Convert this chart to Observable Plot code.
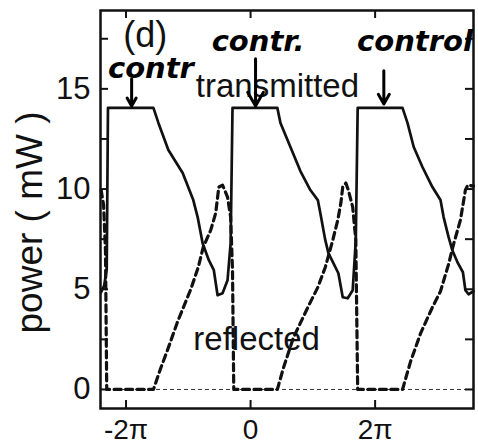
<!DOCTYPE html>
<html><head><meta charset="utf-8">
<script src="https://cdn.jsdelivr.net/npm/d3@7"></script>
<script src="https://cdn.jsdelivr.net/npm/@observablehq/plot@0.6"></script>
<style>body{margin:0;background:#fff}</style>
</head><body><div id="chart"></div>
<script>
// x values are in units of π
const transX = [-2.40, -2.35, -2.31, -2.29, -1.56, -1.48, -1.32, -1.09, -0.92, -0.85, -0.77, -0.67, -0.59, -0.53, -0.45, -0.37, -0.32, -0.29,
  0.43, 0.48, 0.64, 0.80, 0.96, 1.08, 1.12, 1.20, 1.25, 1.33, 1.41, 1.48, 1.56, 1.64, 1.69, 1.72,
  2.44, 2.52, 2.62, 2.76, 2.92, 3.05, 3.10, 3.18, 3.24, 3.33, 3.41, 3.45, 3.50, 3.58];
const transY = [4.85, 5.2, 6.0, 14.05, 14.05, 13.3, 11.95, 10.8, 9.45, 8.6, 7.3, 6.45, 5.95, 4.7, 4.8, 5.45, 7.3, 14.05,
  14.05, 13.3, 12.1, 10.9, 9.95, 9.45, 8.8, 7.45, 6.8, 6.3, 5.8, 4.6, 4.55, 4.95, 7.45, 14.05,
  14.05, 13.3, 12.1, 11.1, 10.1, 9.45, 8.6, 7.6, 6.95, 6.3, 5.85, 4.95, 4.75, 4.9];

const reflX = [-2.40, -2.36, -2.33, -2.31, -1.56, -1.45, -1.33, -1.17, -0.96, -0.84, -0.76, -0.64, -0.56, -0.51, -0.45, -0.37, -0.32, -0.29, -0.27,
  0.43, 0.53, 0.69, 0.92, 1.08, 1.20, 1.32, 1.40, 1.45, 1.48, 1.53, 1.57, 1.64, 1.69, 1.72,
  2.44, 2.57, 2.73, 2.92, 3.05, 3.18, 3.26, 3.37, 3.45, 3.49, 3.58];
const reflY = [9.95, 9.2, 6.9, 0, 0, 1.0, 2.0, 3.4, 5.0, 6.1, 7.1, 7.95, 8.8, 10.1, 10.2, 9.6, 8.6, 5.95, 0,
  0, 1.1, 2.6, 4.1, 5.1, 6.1, 7.45, 8.45, 9.3, 10.1, 10.3, 9.95, 9.1, 7.45, 0,
  0, 1.4, 2.8, 4.1, 4.9, 6.25, 7.25, 8.45, 9.95, 10.2, 10.15];

const xTicks = [-2, 0, 2];
const xTickLabels = ["-2π", "0", "2π"];
const yTicks = [0, 2.5, 5, 7.5, 10, 12.5, 15, 17.5];
const yTickLabels = ["0", "", "5", "", "10", "", "15", ""];

const seriesLabels = ["transmitted", "reflected"];
const seriesLabelX = [-0.88, -0.92];
const seriesLabelY = [14.57, 1.95];

const panelLabel = "(d)";
const yTitle = "power ( mW )";

// handwritten annotations
const noteText = ["contr", "contr.", "control"];
const noteX = [-1.60, 0.12, 2.64];
const noteY = [15.55, 16.9, 16.9];
const arrowX = [-1.91, 0.08, 2.14];
const arrowY1 = [15.5, 16.5, 15.9];
const arrowY2 = [14.15, 14.15, 14.25];

const trans = transX.map((x, i) => ({x, y: transY[i]}));
const refl = reflX.map((x, i) => ({x, y: reflY[i]}));
const labels = seriesLabels.map((t, i) => ({t, x: seriesLabelX[i], y: seriesLabelY[i]}));
const notes = noteText.map((t, i) => ({t, x: noteX[i], y: noteY[i]}));
const arrows = arrowX.map((x, i) => ({x, y1: arrowY1[i], y2: arrowY2[i]}));

const W = 478, H = 448, mL = 100, mR = 5, mT = 10, mB = 40;
const frameW = W - mL - mR, frameH = H - mT - mB, tick = 8;
const ink = "#111";
const chart = Plot.plot({
  width: W, height: H,
  marginLeft: mL, marginRight: mR, marginTop: mT, marginBottom: mB,
  style: {fontFamily: "'Liberation Sans', Arial, sans-serif", background: "white", color: ink},
  x: {domain: [-2.41, 3.58]},
  y: {domain: [-0.95, 18.91]},
  marks: [
    Plot.ruleY([0], {stroke: "#333", strokeWidth: 1, strokeDasharray: "4,3"}),
    Plot.line(refl, {x: "x", y: "y", stroke: ink, strokeWidth: 3.2, strokeDasharray: "7,4.5"}),
    Plot.line(trans, {x: "x", y: "y", stroke: ink, strokeWidth: 2.7}),
    Plot.frame({stroke: ink, strokeWidth: 2.5}),
    // inward ticks on all four sides
    Plot.tickY(yTicks, {y: d => d, insetRight: frameW - tick, stroke: ink, strokeWidth: 2}),
    Plot.tickY(yTicks, {y: d => d, insetLeft: frameW - tick, stroke: ink, strokeWidth: 2}),
    Plot.tickX(xTicks, {x: d => d, insetTop: frameH - tick, stroke: ink, strokeWidth: 2}),
    Plot.tickX(xTicks, {x: d => d, insetBottom: frameH - tick, stroke: ink, strokeWidth: 2}),
    Plot.axisY(yTicks, {anchor: "left", tickSize: 0, tickPadding: 10, fontSize: 31,
      tickFormat: d => yTickLabels[yTicks.indexOf(d)], label: null}),
    Plot.axisX(xTicks, {anchor: "bottom", tickSize: 0, tickPadding: 11, fontSize: 28,
      tickFormat: d => xTickLabels[xTicks.indexOf(d)], label: null}),
    Plot.text(labels, {x: "x", y: "y", text: "t", textAnchor: "start", lineAnchor: "bottom", fontSize: 33, fill: ink}),
    Plot.text([panelLabel], {x: () => -1.69, y: () => 17.1, text: d => d, lineAnchor: "bottom", fontSize: 36, fill: ink}),
    Plot.text([yTitle], {frameAnchor: "left", textAnchor: "middle", rotate: -90, dx: -70, dy: 13, fontSize: 37, fill: ink}),
    Plot.text(notes, {x: "x", y: "y", text: "t", lineAnchor: "bottom", fontSize: 29, fontWeight: "bold", fontStyle: "italic",
      fontFamily: "'DejaVu Sans', sans-serif", fill: "#000"}),
    Plot.arrow(arrows, {x: "x", y1: "y1", y2: "y2", stroke: "#000", strokeWidth: 3, headLength: 10})
  ]
});
document.getElementById("chart").appendChild(chart);
</script>
</body></html>
